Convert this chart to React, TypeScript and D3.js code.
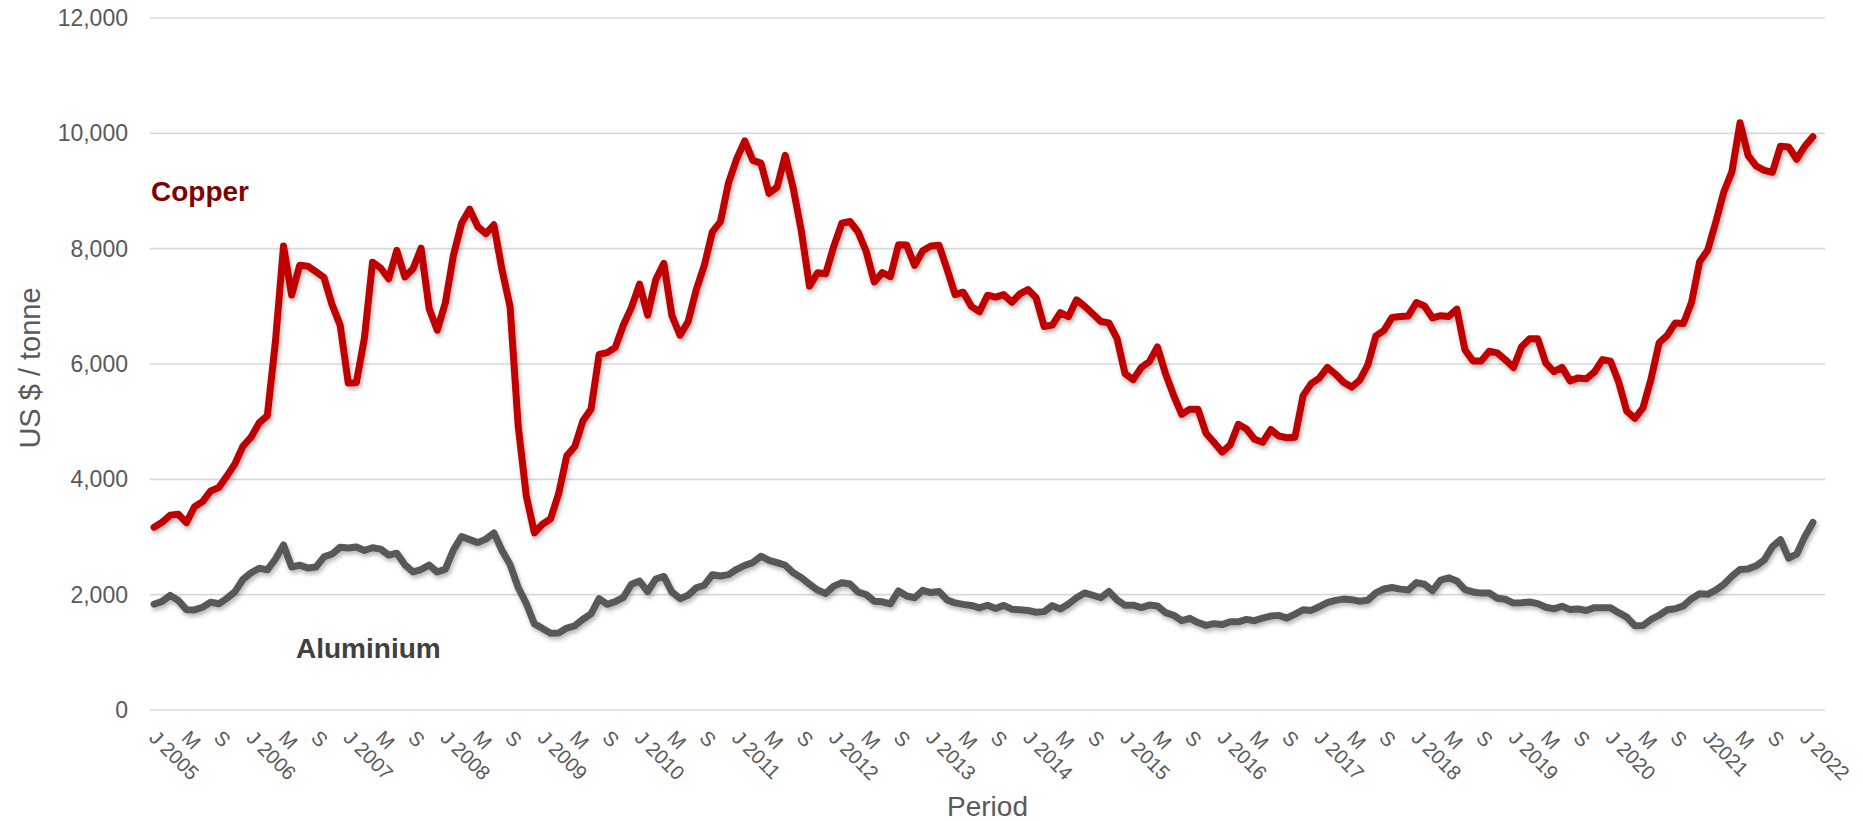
import React from "react";
import * as d3 from "d3";

// Monthly categories Jan 2005 .. Mar 2022 (last category empty)
const startYear = 2005;
const categoryCount = 207;

const copper: number[] = [
  3170, 3254, 3379, 3394, 3249, 3524, 3614, 3798, 3857, 4059, 4269, 4577,
  4734, 4982, 5103, 6387, 8045, 7197, 7712, 7697, 7601, 7500, 7029, 6674,
  5669, 5676, 6452, 7766, 7665, 7479, 7970, 7510, 7650, 8008, 6963, 6587,
  7061, 7888, 8439, 8685, 8383, 8260, 8414, 7634, 6991, 4927, 3717, 3072,
  3221, 3315, 3751, 4407, 4569, 5014, 5216, 6165, 6196, 6288, 6676, 6982,
  7386, 6848, 7463, 7745, 6838, 6499, 6735, 7284, 7709, 8292, 8470, 9147,
  9556, 9868, 9530, 9483, 8960, 9067, 9619, 9041, 8300, 7350, 7581, 7566,
  8041, 8441, 8471, 8290, 7955, 7423, 7584, 7515, 8068, 8062, 7711, 7963,
  8047, 8061, 7646, 7203, 7245, 7000, 6907, 7193, 7159, 7203, 7071, 7215,
  7291, 7149, 6650, 6674, 6891, 6821, 7113, 7002, 6872, 6737, 6713, 6446,
  5831, 5729, 5940, 6042, 6295, 5833, 5457, 5127, 5217, 5216, 4800, 4639,
  4472, 4599, 4954, 4873, 4695, 4642, 4864, 4751, 4722, 4731, 5451, 5660,
  5755, 5941, 5825, 5684, 5600, 5720, 5985, 6489, 6583, 6808, 6825, 6834,
  7066, 7006, 6799, 6837, 6825, 6951, 6248, 6051, 6050, 6221, 6194, 6073,
  5939, 6301, 6439, 6438, 6017, 5867, 5941, 5708, 5759, 5743, 5861, 6077,
  6049, 5687, 5183, 5058, 5239, 5741, 6369, 6497, 6712, 6704, 7065, 7772,
  7971, 8460, 8988, 9336, 10184, 9612, 9434, 9357, 9324, 9778, 9765, 9551,
  9776, 9941,
];

const aluminium: number[] = [
  1835, 1884, 1988, 1899, 1740, 1735, 1781, 1870, 1842, 1937, 2052, 2267,
  2380, 2459, 2429, 2619, 2861, 2479, 2512, 2463, 2478, 2655, 2704, 2822,
  2808, 2826, 2765, 2814, 2790, 2685, 2719, 2517, 2395, 2436, 2514, 2393,
  2442, 2776, 3006, 2955, 2903, 2963, 3071, 2765, 2522, 2124, 1846, 1493,
  1415, 1330, 1336, 1420, 1460, 1574, 1668, 1932, 1833, 1878, 1952, 2182,
  2235, 2055, 2271, 2316, 2046, 1931, 1988, 2118, 2164, 2346, 2325, 2348,
  2440, 2508, 2556, 2667, 2596, 2556, 2510, 2378, 2294, 2182, 2080, 2022,
  2148, 2208, 2186, 2046, 2002, 1887, 1877, 1840, 2064, 1977, 1947, 2076,
  2037, 2054, 1910, 1857, 1832, 1813, 1770, 1817, 1761, 1814, 1748, 1739,
  1726, 1695, 1706, 1810, 1751, 1839, 1948, 2030, 1990, 1946, 2056, 1909,
  1815, 1818, 1776, 1819, 1804, 1689, 1643, 1548, 1589, 1517, 1467, 1497,
  1481, 1531, 1530, 1571, 1549, 1594, 1629, 1641, 1593, 1664, 1737, 1727,
  1791, 1861, 1901, 1923, 1913, 1886, 1904, 2030, 2098, 2124, 2096, 2080,
  2209, 2181, 2069, 2253, 2292, 2238, 2089, 2047, 2027, 2028, 1939, 1921,
  1854, 1859, 1872, 1845, 1781, 1753, 1800, 1741, 1752, 1726, 1775, 1772,
  1771, 1688, 1611, 1461, 1465, 1570, 1643, 1737, 1756, 1805, 1930, 2017,
  2006, 2079, 2180, 2322, 2438, 2447, 2500, 2603, 2834, 2953, 2632, 2702,
  3006, 3253,
];

// One label every 4 months, starting Jan 2005
const tickLabels: string[] = [
  "J 2005", "M", "S", "J 2006", "M", "S", "J 2007", "M", "S", "J 2008", "M", "S",
  "J 2009", "M", "S", "J 2010", "M", "S", "J 2011", "M", "S", "J 2012", "M", "S",
  "J 2013", "M", "S", "J 2014", "M", "S", "J 2015", "M", "S", "J 2016", "M", "S",
  "J 2017", "M", "S", "J 2018", "M", "S", "J 2019", "M", "S", "J 2020", "M", "S",
  "J2021", "M", "S", "J 2022",
];
const tickStep = 4;

const yTicks: number[] = [0, 2000, 4000, 6000, 8000, 10000, 12000];

const W = 1863;
const H = 821;
const FONT = "'Liberation Sans', Arial, Helvetica, sans-serif";

export default function App() {
  const categories = d3.range(categoryCount);
  const x = d3.scaleBand<number>().domain(categories).range([150, 1825]).padding(0);
  const cx = (i: number) => (x(i) as number) + x.bandwidth() / 2;
  const y = d3.scaleLinear().domain([0, 12000]).range([710, 18]);

  const line = d3
    .line<number>()
    .x((_, i) => cx(i))
    .y((d) => y(d))
    .curve(d3.curveLinear);

  const fmt = d3.format(",");

  return (
    <svg
      width={W}
      height={H}
      style={{ position: "absolute", left: 0, top: 0, background: "#fff" }}
      fontFamily={FONT}
    >
      <defs>
        <filter id="shadow" x="-5%" y="-5%" width="110%" height="120%">
          <feDropShadow dx="1.5" dy="3" stdDeviation="2" floodColor="#000" floodOpacity="0.28" />
        </filter>
      </defs>

      {/* gridlines */}
      {yTicks.map((t) => (
        <line
          key={"g" + t}
          x1={150}
          x2={1825}
          y1={y(t)}
          y2={y(t)}
          stroke="#D9D9D9"
          strokeWidth={1.6}
        />
      ))}

      {/* y tick labels */}
      {yTicks.map((t) => (
        <text
          key={"yt" + t}
          x={128}
          y={y(t) + 8}
          textAnchor="end"
          fontSize={23}
          fill="#595959"
        >
          {fmt(t)}
        </text>
      ))}

      {/* x tick labels */}
      {tickLabels.map((lab, k) => {
        const i = k * tickStep;
        const ax = cx(i) - 6;
        const ay = 739;
        return (
          <text
            key={"xt" + k}
            transform={`translate(${ax},${ay}) rotate(45)`}
            fontSize={20}
            fill="#595959"
          >
            {lab}
          </text>
        );
      })}

      {/* series */}
      <path
        d={line(aluminium) || ""}
        fill="none"
        stroke="#595959"
        strokeWidth={7}
        strokeLinejoin="round"
        strokeLinecap="round"
        filter="url(#shadow)"
      />
      <path
        d={line(copper) || ""}
        fill="none"
        stroke="#C00000"
        strokeWidth={7}
        strokeLinejoin="round"
        strokeLinecap="round"
        filter="url(#shadow)"
      />

      {/* series labels */}
      <text x={151} y={201} fontSize={28} fontWeight="bold" fill="#7F0000">
        Copper
      </text>
      <text x={296} y={658} fontSize={28} fontWeight="bold" fill="#404040">
        Aluminium
      </text>

      {/* axis titles */}
      <text
        transform={`translate(40,${(y(0) + y(12000)) / 2 + 4}) rotate(-90)`}
        textAnchor="middle"
        fontSize={29}
        fill="#595959"
      >
        US $ / tonne
      </text>
      <text x={(150 + 1825) / 2} y={816} textAnchor="middle" fontSize={28} fill="#595959">
        Period
      </text>
    </svg>
  );
}
